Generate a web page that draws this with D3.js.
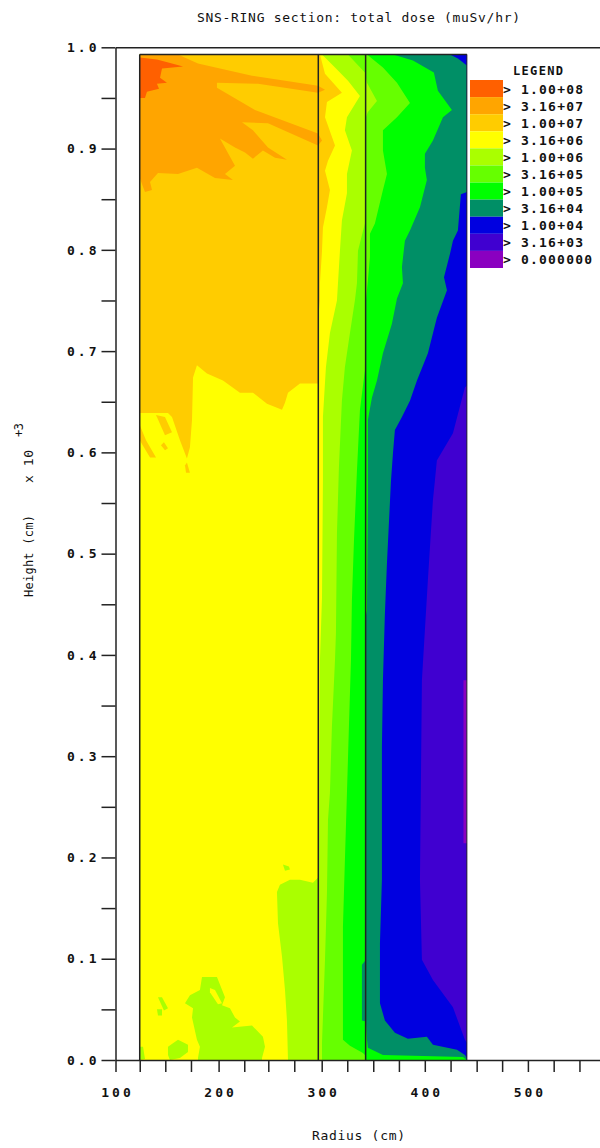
<!DOCTYPE html>
<html>
<head>
<meta charset="utf-8">
<title>SNS-RING section: total dose</title>
<script src="https://cdn.jsdelivr.net/npm/d3@7"></script>
<style>
	html, body { margin: 0; padding: 0; background: #fff; }
	svg { display: block; }
	text { font-family: "DejaVu Sans Mono", monospace; fill: #111; }
</style>
</head>
<body>
<script>
const width = 600;
const height = 1148;

// legend, top row = highest dose
const legendLabels = ["> 1.00+08", "> 3.16+07", "> 1.00+07", "> 3.16+06", "> 1.00+06", "> 3.16+05", "> 1.00+05", "> 3.16+04", "> 1.00+04", "> 3.16+03", "> 0.000000"];
const legendColors = ["#ff6000", "#ffa500", "#ffcc00", "#ffff00", "#aaff00", "#66ff00", "#00ff00", "#008f66", "#0000e0", "#4000d0", "#8a00c0"];

// tick values (radius in cm, height in 10^3 cm)
const radiusTicks = [100, 123.5, 148.3, 173.2, 200, 224.9, 248.2, 273.4, 300, 324.8, 350, 374.9, 400, 425, 450.3, 475, 500, 525, 550];
const radiusLabels = [100, 200, 300, 400, 500];
const heightTicks = [0, 0.05, 0.1, 0.15, 0.2, 0.25, 0.3, 0.35, 0.4, 0.45, 0.5, 0.55, 0.6, 0.65, 0.7, 0.75, 0.8, 0.85, 0.9, 0.95, 1];
const heightLabels = [0, 0.1, 0.2, 0.3, 0.4, 0.5, 0.6, 0.7, 0.8, 0.9, 1];

// the section itself and its two wall lines
const sectionRadius = [123.5, 440.8];
const sectionHeight = [0, 0.993];
const wallRadius = [296.7, 342.6];

// dose regions as [radius, height] outlines, each one painted over the lower level
const regionAll = [[123.5, 0], [123.5, 0.993], [440.8, 0.993], [440.8, 0]];
const region316e3 = [[123.5, 0], [123.5, 0.993], [440.8, 0.993], [440.8, 0.375], [437.5, 0.375], [437.5, 0.214], [440.8, 0.214], [440.8, 0]];
const region1e4 = [[123.5, 0.993], [440.8, 0.993], [440.8, 0.666], [438.9, 0.664], [427.3, 0.619], [411.7, 0.592], [409.8, 0.572], [407.9, 0.553], [403, 0.474], [397.2, 0.375], [395.3, 0.178], [397.2, 0.099], [407.9, 0.079], [427.3, 0.052], [438.9, 0.02], [440.8, 0.017], [440.8, 0], [123.5, 0]];
const region316e4 = [[424.4, 0.993], [432.1, 0.989], [440.8, 0.982], [440.8, 0.857], [435, 0.855], [432.1, 0.819], [427.3, 0.809], [424.4, 0.796], [418.6, 0.773], [421.5, 0.76], [411.7, 0.733], [403, 0.698], [392.4, 0.671], [385.6, 0.651], [377.8, 0.635], [371, 0.622], [369.1, 0.599], [367.2, 0.572], [363.3, 0.491], [361.3, 0.441], [359.4, 0.375], [358.4, 0.309], [358.4, 0.178], [356.5, 0.115], [356.5, 0.056], [361.3, 0.039], [371, 0.027], [383.6, 0.021], [402, 0.023], [407.9, 0.015], [431.2, 0.01], [438.9, 0.005], [440.8, 0.002], [440.8, 0], [123.5, 0], [123.5, 0.993]];
const region1e5 = [[369.1, 0.993], [388.5, 0.987], [408.8, 0.975], [412.7, 0.957], [426.3, 0.938], [417.6, 0.931], [407.9, 0.908], [400.1, 0.895], [400.1, 0.881], [402, 0.869], [395.3, 0.842], [385.6, 0.819], [380.7, 0.809], [377.8, 0.783], [378.8, 0.767], [373, 0.752], [368.1, 0.727], [359.4, 0.698], [353.6, 0.671], [348.7, 0.654], [344.8, 0.632], [344.8, 0.553], [343.9, 0.444], [342.9, 0.439], [342.9, 0.099], [339, 0.094], [339, 0.039], [342.9, 0.038], [343.9, 0.02], [344.8, 0.012], [359.4, 0.005], [437, 0.003], [440.8, 0], [123.5, 0], [123.5, 0.993]];
const region316e5 = [[343.9, 0.993], [359.4, 0.98], [373, 0.965], [385.6, 0.945], [373, 0.931], [359.4, 0.918], [359.4, 0.898], [363.3, 0.875], [359.4, 0.859], [351.6, 0.826], [346.8, 0.816], [346.8, 0.793], [344.8, 0.77], [342.9, 0.75], [341.9, 0.681], [337.1, 0.642], [334.2, 0.582], [331.3, 0.513], [329.3, 0.454], [328.4, 0.395], [326.4, 0.329], [324.5, 0.264], [322.5, 0.197], [320.6, 0.131], [320.6, 0.066], [320.6, 0.02], [327.4, 0.014], [340, 0.007], [342.9, 0.004], [342.9, 0], [123.5, 0], [123.5, 0.993]];
const region1e6 = [[325.4, 0.993], [341.9, 0.975], [343.9, 0.965], [353.6, 0.947], [344.8, 0.936], [342.9, 0.931], [341.9, 0.826], [335.2, 0.799], [334.2, 0.767], [332.2, 0.75], [327.4, 0.718], [322.5, 0.684], [319.6, 0.651], [316.7, 0.585], [314.8, 0.52], [313.8, 0.421], [312.9, 0.395], [309.9, 0.329], [308, 0.264], [306.1, 0.237], [305.1, 0.165], [303.2, 0.099], [300.3, 0.017], [300.3, 0], [123.5, 0], [123.5, 0.993]];
const region316e6 = [[300.3, 0.993], [303.2, 0.99], [312.9, 0.98], [325.5, 0.967], [337.1, 0.952], [324.5, 0.931], [322.5, 0.918], [329.3, 0.898], [324.5, 0.875], [324.5, 0.856], [319.6, 0.829], [317.7, 0.799], [315.8, 0.767], [314.8, 0.75], [308, 0.718], [304.1, 0.684], [301.2, 0.635], [301.2, 0.572], [300.3, 0.457], [298.3, 0.395], [297.3, 0.197], [296.4, 0.18], [291.5, 0.175], [278.9, 0.178], [269.2, 0.178], [259.5, 0.173], [256.6, 0.166], [257.6, 0.135], [261.5, 0.102], [264.4, 0.069], [266.3, 0.039], [267.3, 0], [123.5, 0], [123.5, 0.993]];
const region1e7 = [[298.3, 0.993], [303.2, 0.974], [319.6, 0.955], [305.1, 0.946], [303.2, 0.931], [312.9, 0.903], [306.1, 0.888], [303.2, 0.878], [308, 0.859], [305.1, 0.842], [301.2, 0.822], [300.3, 0.799], [298.3, 0.767], [298.3, 0.75], [296.4, 0.73], [296.4, 0.668], [291.5, 0.668], [278.9, 0.668], [267.3, 0.659], [264.4, 0.649], [261.5, 0.642], [246.9, 0.648], [233.3, 0.659], [220.7, 0.659], [204.2, 0.671], [188.7, 0.678], [179, 0.686], [175.2, 0.674], [174.2, 0.632], [172.2, 0.605], [169.3, 0.594], [162.5, 0.612], [154.8, 0.635], [150.9, 0.639], [123.5, 0.639], [123.5, 0.993]];
const region316e7 = [[160.6, 0.993], [180, 0.984], [232.4, 0.972], [296.4, 0.962], [303.2, 0.958], [296.4, 0.955], [238.2, 0.964], [198.4, 0.965], [198.4, 0.96], [235.3, 0.938], [296.4, 0.915], [300.3, 0.908], [296.4, 0.903], [247.9, 0.925], [222.7, 0.926], [233.3, 0.918], [247.9, 0.901], [266.3, 0.889], [254.7, 0.891], [243, 0.898], [233.3, 0.89], [225.6, 0.896], [215.9, 0.901], [201.3, 0.91], [215.9, 0.883], [206.2, 0.875], [213.9, 0.869], [196.5, 0.871], [179, 0.881], [160.6, 0.875], [141.2, 0.876], [133.5, 0.867], [135.4, 0.859], [128.6, 0.857], [123.5, 0.871], [123.5, 0.993]];
const region1e8 = [[123.5, 0.99], [140.2, 0.988], [154.8, 0.984], [165.5, 0.981], [145.1, 0.979], [143.2, 0.97], [149.9, 0.965], [140.2, 0.964], [142.2, 0.959], [130.5, 0.956], [128.6, 0.95], [123.5, 0.95]];

// small patches near the floor
const floorBlob = [[180, 0], [180, 0.002], [181.9, 0.013], [179, 0.02], [174.2, 0.042], [175.2, 0.051], [167.4, 0.056], [172.2, 0.064], [181.9, 0.069], [183.9, 0.082], [198.4, 0.082], [206.2, 0.062], [203.3, 0.054], [211, 0.051], [215.9, 0.042], [220.7, 0.038], [213, 0.032], [232.4, 0.034], [243, 0.023], [245, 0.013], [242.1, 0.002], [242.1, 0]];
const floorBlobHole = [[191.6, 0.071], [196.5, 0.069], [203.3, 0.056], [199.4, 0.055], [191.6, 0.067]];
const floorPatchA = [[150.9, 0.013], [160.6, 0.02], [170.3, 0.015], [170.3, 0.008], [162.5, 0.002], [152.8, 0], [150.9, 0.005]];
const floorPatchB = [[123.5, 0.013], [126.7, 0.013], [128.6, 0.001], [123.5, 0]];
const floorSpeckA = [[141.2, 0.062], [145.1, 0.062], [150.9, 0.051], [147, 0.049]];
const floorSpeckB = [[140.2, 0.05], [145.1, 0.05], [145.1, 0.044], [141.2, 0.044]];
const upperSpeck = [[262.4, 0.193], [268.2, 0.191], [269.2, 0.188], [264.4, 0.187]];

// broken stripes under the 1e7 edge
const stripeA = [[123.5, 0.627], [129.6, 0.612], [139.3, 0.595], [133.5, 0.595], [123.5, 0.612]];
const stripeB = [[139.3, 0.637], [148, 0.635], [154.8, 0.62], [148, 0.617]];
const stripeC = [[147, 0.61], [150.9, 0.604], [148, 0.602], [144.1, 0.607]];
const stripeD = [[169.3, 0.59], [172.2, 0.58], [168.4, 0.58], [167.4, 0.587]];

// paint order, the number is the row in legendColors
const layers = [
	[10, regionAll], [9, region316e3], [8, region1e4], [7, region316e4], [6, region1e5],
	[5, region316e5], [4, region1e6], [3, region316e6],
	[4, floorBlob], [3, floorBlobHole], [4, floorPatchA], [4, floorPatchB], [4, floorSpeckA], [4, floorSpeckB], [4, upperSpeck],
	[2, region1e7], [2, stripeA], [2, stripeB], [2, stripeC], [2, stripeD],
	[1, region316e7], [0, region1e8]
];

document.addEventListener("DOMContentLoaded", function(event) {
	const svg = d3.select("body")
		.append("svg")
		.attr("width", width)
		.attr("height", height);

	// the radius axis runs on past the right edge of the picture
	const xScale = d3.scaleLinear().domain([100, 600]).range([115.5, 631]);
	const yScale = d3.scaleLinear().domain([0, 1]).range([1060, 47.3]);

	drawRegions(svg, xScale, yScale);
	drawAxes(svg, xScale, yScale);
	drawLegend(svg);
	drawTitles(svg);
});

/**
 * paint the dose regions from lowest to highest, then the section frame.
 */
function drawRegions(svg, xScale, yScale) {
	const outline = d3.line()
		.x(function(d) { return xScale(d[0]); })
		.y(function(d) { return yScale(d[1]); })
		.curve(d3.curveLinearClosed);

	svg.append("g")
		.selectAll("path")
		.data(layers)
		.enter()
		.append("path")
		.attr("d", function(d) { return outline(d[1]); })
		.attr("fill", function(d) { return legendColors[d[0]]; });

	//left and top edge are black, the right edge is fainter
	svg.append("g")
		.selectAll("line")
		.data([sectionRadius[0]].concat(wallRadius))
		.enter()
		.append("line")
		.attr("x1", function(d) { return xScale(d); })
		.attr("x2", function(d) { return xScale(d); })
		.attr("y1", yScale(sectionHeight[1]))
		.attr("y2", yScale(sectionHeight[0]))
		.attr("stroke", "#222")
		.attr("stroke-width", 1.5);

	svg.append("line")
		.attr("x1", xScale(sectionRadius[0]))
		.attr("x2", xScale(sectionRadius[1]))
		.attr("y1", yScale(sectionHeight[1]))
		.attr("y2", yScale(sectionHeight[1]))
		.attr("stroke", "#222")
		.attr("stroke-width", 1.5);

	svg.append("line")
		.attr("x1", xScale(sectionRadius[1]))
		.attr("x2", xScale(sectionRadius[1]))
		.attr("y1", yScale(sectionHeight[1]))
		.attr("y2", yScale(sectionHeight[0]))
		.attr("stroke", "#223")
		.attr("stroke-width", 1);
}

function drawAxes(svg, xScale, yScale) {
	const xAxis = d3.axisBottom(xScale)
		.tickValues(radiusTicks)
		.tickSize(12)
		.tickSizeOuter(0)
		.tickFormat(function(d) { return radiusLabels.indexOf(d) >= 0 ? d : ""; });

	const yAxis = d3.axisLeft(yScale)
		.tickValues(heightTicks)
		.tickSize(14)
		.tickSizeOuter(0)
		.tickFormat(function(d) { return heightLabels.indexOf(d) >= 0 ? d3.format(".1f")(d) : ""; });

	const topAxis = d3.axisTop(xScale).tickValues([]).tickSizeOuter(0);

	const bottom = svg.append("g").attr("transform", "translate(0," + yScale(0) + ")").call(xAxis);
	const left = svg.append("g").attr("transform", "translate(" + xScale(100) + ",0)").call(yAxis);
	const top = svg.append("g").attr("transform", "translate(0," + yScale(1) + ")").call(topAxis);

	[bottom, left, top].forEach(function(axis) {
		axis.selectAll("path, line").attr("stroke", "#222").attr("stroke-width", 1.5);
		axis.selectAll("text")
			.attr("font-family", "DejaVu Sans Mono")
			.attr("font-size", 13)
			.attr("font-weight", "bold")
			.attr("letter-spacing", 3)
			.attr("fill", "#111");
	});

	bottom.selectAll("text").attr("y", 28).attr("dx", 1.5);
	left.selectAll("text").attr("x", -19).attr("dx", 3);
}

function drawLegend(svg) {
	const rowScale = d3.scaleBand().domain(legendLabels).range([80, 268]);

	svg.append("text")
		.attr("x", 513)
		.attr("y", 75)
		.attr("font-size", 12)
		.attr("font-weight", "bold")
		.attr("textLength", 50)
		.text("LEGEND");

	const rows = svg.append("g")
		.selectAll("g")
		.data(legendLabels)
		.enter()
		.append("g");

	rows.append("rect")
		.attr("x", 470)
		.attr("width", 33)
		.attr("y", function(d) { return rowScale(d); })
		.attr("height", rowScale.bandwidth())
		.attr("fill", function(d, i) { return legendColors[i]; });

	rows.append("text")
		.attr("x", 503)
		.attr("y", function(d) { return rowScale(d) + rowScale.bandwidth() / 2 + 5; })
		.attr("font-size", 13)
		.attr("font-weight", "bold")
		.attr("textLength", function(d) { return d.length > 9 ? 89 : 80; })
		.text(function(d) { return d; });
}

function drawTitles(svg) {
	svg.append("text")
		.attr("x", 197)
		.attr("y", 22)
		.attr("font-size", 13)
		.attr("textLength", 323)
		.text("SNS-RING section: total dose (muSv/hr)");

	svg.append("text")
		.attr("x", 312)
		.attr("y", 1140)
		.attr("font-size", 13)
		.attr("textLength", 93)
		.text("Radius (cm)");

	const yTitle = [
		{ text: "Height (cm)", x: 33, y: 597, size: 12, length: 82 },
		{ text: "x 10", x: 33, y: 483, size: 13, length: 33 },
		{ text: "+3", x: 23, y: 437, size: 12, length: 14 }
	];

	svg.append("g")
		.selectAll("text")
		.data(yTitle)
		.enter()
		.append("text")
		.attr("transform", function(d) { return "translate(" + d.x + "," + d.y + ") rotate(-90)"; })
		.attr("font-size", function(d) { return d.size; })
		.attr("textLength", function(d) { return d.length; })
		.text(function(d) { return d.text; });
}
</script>
</body>
</html>
